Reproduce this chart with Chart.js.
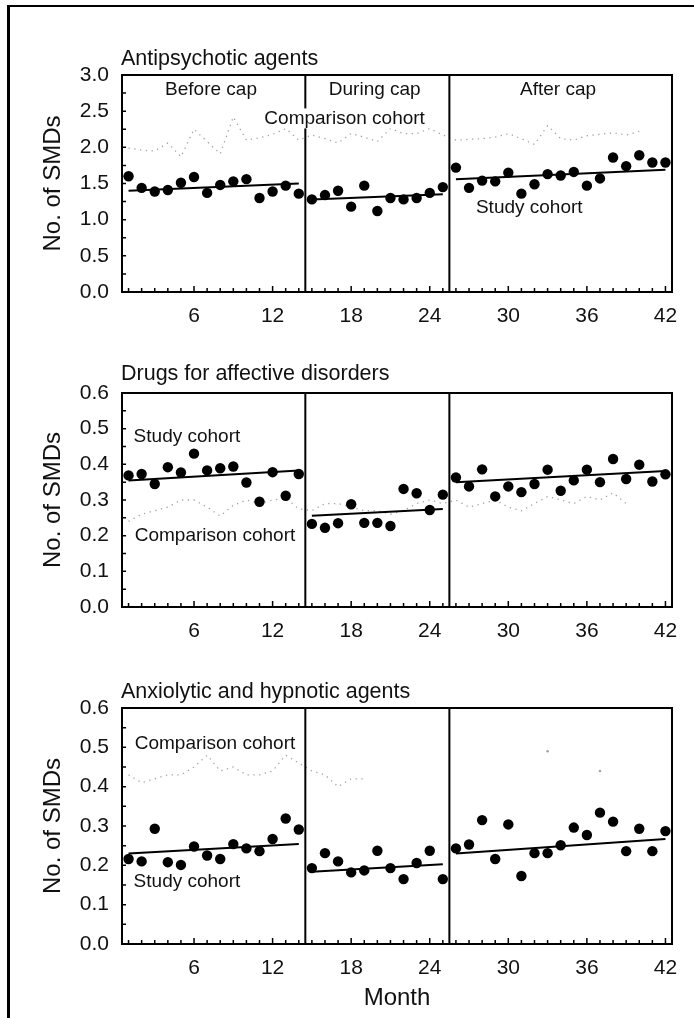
<!DOCTYPE html>
<html>
<head>
<meta charset="utf-8">
<script src="https://cdn.jsdelivr.net/npm/chart.js@4.4.1/dist/chart.umd.min.js"></script>
<style>
  body { margin: 0; background: #fff; }
  #page { position: relative; width: 694px; height: 1018px; overflow: hidden; background: #fff; }
  #frame { position: absolute; left: 7px; top: 5px; width: 700px; height: 1030px;
           border-left: 3px solid #000; border-top: 2px solid #000; }
  canvas { position: absolute; left: 0; }
</style>
</head>
<body>
<div id="page">
  <div id="frame"></div>
  <canvas id="c1" style="top:0px"></canvas>
  <canvas id="c2" style="top:330px"></canvas>
  <canvas id="c3" style="top:650px"></canvas>
</div>
<script>
// months and periods
const months = [1, 2, 3, 4, 5, 6, 7, 8, 9, 10, 11, 12, 13, 14,
                15, 16, 17, 18, 19, 20, 21, 22, 23, 24, 25,
                26, 27, 28, 29, 30, 31, 32, 33, 34, 35, 36, 37, 38, 39, 40, 41, 42];
const xTicks = [6, 12, 18, 24, 30, 36, 42];
const periodNames = ['Before cap', 'During cap', 'After cap'];
const periodFirst = [1, 15, 26];
const periodLast = [14, 25, 42];
const periodBreaks = [14.5, 25.5];

// Antipsychotic agents
const antiTicks = [0, 0.5, 1, 1.5, 2, 2.5, 3];
const antiStudy = [1.60, 1.44, 1.39, 1.41, 1.51, 1.59, 1.37, 1.48, 1.53, 1.56, 1.30, 1.39, 1.47, 1.36,
                   1.28, 1.34, 1.40, 1.18, 1.47, 1.12, 1.30, 1.28, 1.30, 1.37, 1.45,
                   1.72, 1.44, 1.54, 1.53, 1.65, 1.36, 1.49, 1.63, 1.61, 1.66, 1.47, 1.57, 1.86, 1.74, 1.89, 1.79, 1.79];
const antiComparison = [1.99, 1.96, 1.95, 2.06, 1.87, 2.25, 2.08, 1.91, 2.42, 2.10, 2.13, 2.18, 2.26, 2.10,
                        2.17, 2.12, 2.06, 2.19, 2.14, 2.08, 2.26, 2.19, 2.19, 2.26, 2.17,
                        2.10, 2.11, 2.12, 2.14, 2.19, 2.12, 2.04, 2.30, 2.12, 2.10, 2.16, 2.18, 2.20, 2.17, 2.22, null, null];
const antiTrendStart = [1.40, 1.28, 1.56];
const antiTrendEnd = [1.50, 1.35, 1.69];

// Drugs for affective disorders
const affTicks = [0, 0.1, 0.2, 0.3, 0.4, 0.5, 0.6];
const affStudy = [0.369, 0.373, 0.345, 0.392, 0.377, 0.430, 0.383, 0.389, 0.394, 0.349, 0.295, 0.378, 0.312, 0.373,
                  0.233, 0.222, 0.235, 0.288, 0.236, 0.236, 0.227, 0.331, 0.319, 0.272, 0.315,
                  0.363, 0.338, 0.386, 0.310, 0.338, 0.322, 0.345, 0.385, 0.326, 0.355, 0.385, 0.350, 0.415, 0.359, 0.399, 0.352, 0.372];
const affComparison = [0.24, 0.26, 0.27, 0.28, 0.30, 0.30, 0.28, 0.255, 0.285, 0.30, 0.29, 0.30, 0.305, 0.275,
                       0.27, 0.29, 0.29, 0.28, 0.27, 0.27, 0.26, 0.27, 0.29, 0.30, 0.29,
                       0.30, 0.28, 0.29, 0.30, 0.28, 0.27, 0.29, 0.31, 0.30, 0.29, 0.31, 0.30, 0.32, 0.29, null, null, null];
const affTrendStart = [0.355, 0.256, 0.350];
const affTrendEnd = [0.383, 0.275, 0.381];

// Anxiolytic and hypnotic agents
const anxTicks = [0, 0.1, 0.2, 0.3, 0.4, 0.5, 0.6];
const anxStudy = [0.216, 0.210, 0.293, 0.208, 0.201, 0.248, 0.225, 0.216, 0.254, 0.243, 0.236, 0.267, 0.319, 0.291,
                  0.193, 0.231, 0.210, 0.182, 0.187, 0.237, 0.193, 0.165, 0.206, 0.237, 0.165,
                  0.243, 0.253, 0.315, 0.216, 0.304, 0.173, 0.231, 0.231, 0.251, 0.296, 0.277, 0.334, 0.311, 0.236, 0.293, 0.236, 0.287];
const anxComparison = [0.43, 0.41, 0.42, 0.43, 0.43, 0.45, 0.48, 0.44, 0.45, 0.43, 0.43, 0.44, 0.48, 0.46,
                       0.44, 0.43, 0.40, 0.42, 0.42, null, null, null, null, null, null,
                       null, null, null, null, null, null, null, 0.49, null, null, null, 0.44, null, null, null, null, null];
const anxTrendStart = [0.230, 0.184, 0.230];
const anxTrendEnd = [0.254, 0.203, 0.267];

const FONT = '"Liberation Sans", Arial, Helvetica, sans-serif';
const INK = '#111';
const GREY = '#a3a3a3';

// draws frame, dividers, inward ticks, titles and in-plot labels
const decor = {
  id: 'decor',
  afterDatasetsDraw(chart, args, opts) {
    const {ctx, chartArea: a, scales: {x, y}} = chart;
    ctx.save();
    ctx.strokeStyle = '#000';
    ctx.lineWidth = 1.5;
    ctx.beginPath();
    months.forEach(m => {
      const px = x.getPixelForValue(m);
      const len = m % 6 === 0 ? 6 : 4;
      ctx.moveTo(px, a.bottom);
      ctx.lineTo(px, a.bottom - len);
    });
    for (let v = 0; v <= y.max + 1e-9; v += opts.minorStep) {
      const py = y.getPixelForValue(v);
      ctx.moveTo(a.left, py);
      ctx.lineTo(a.left + 4, py);
    }
    ctx.stroke();

    ctx.lineWidth = 2;
    ctx.strokeRect(a.left, a.top, a.right - a.left, a.bottom - a.top);
    ctx.beginPath();
    periodBreaks.forEach(b => {
      const px = x.getPixelForValue(b);
      ctx.moveTo(px, a.top);
      ctx.lineTo(px, a.bottom);
    });
    ctx.stroke();

    ctx.fillStyle = INK;
    ctx.font = '21.5px ' + FONT;
    ctx.textAlign = 'left';
    ctx.textBaseline = 'alphabetic';
    ctx.fillText(opts.title, a.left - 1, a.top - opts.titleGap);

    ctx.font = '19px ' + FONT;
    ctx.textAlign = 'center';
    ctx.textBaseline = 'middle';
    opts.labels.forEach(l => {
      const px = x.getPixelForValue(l.x);
      const py = y.getPixelForValue(l.y);
      if (l.bg) {
        const w = ctx.measureText(l.text).width;
        ctx.fillStyle = '#fff';
        ctx.fillRect(px - w / 2 - 2, py - 10, w + 4, 20);
        ctx.fillStyle = INK;
      }
      ctx.fillText(l.text, px, py);
    });
    ctx.restore();
  }
};

function studySet(vals) {
  return {
    data: months.map((m, i) => ({x: m, y: vals[i]})),
    showLine: false,
    pointRadius: 5.2,
    pointBackgroundColor: '#000',
    pointBorderWidth: 0
  };
}

function comparisonSet(vals) {
  return {
    data: months.map((m, i) => ({x: m, y: vals[i]})),
    borderColor: GREY,
    borderWidth: 1.3,
    borderDash: [1.3, 4.5],
    spanGaps: false,
    pointBackgroundColor: GREY,
    pointBorderWidth: 0,
    pointRadius: c => {
      const i = c.dataIndex;
      const alone = vals[i] != null && vals[i - 1] == null && vals[i + 1] == null;
      return alone ? 1.3 : 0;
    }
  };
}

function trendSets(starts, ends) {
  return starts.map((s, i) => ({
    data: [{x: periodFirst[i], y: s}, {x: periodLast[i], y: ends[i]}],
    borderColor: '#000',
    borderWidth: 2,
    pointRadius: 0
  }));
}

function makePanel(id, h, cfg) {
  const cv = document.getElementById(id);
  cv.width = 694; cv.height = h;
  cv.style.width = '694px'; cv.style.height = h + 'px';
  return new Chart(cv, {
    type: 'line',
    data: {
      datasets: [studySet(cfg.study)].concat(trendSets(cfg.trendStart, cfg.trendEnd), [comparisonSet(cfg.comparison)])
    },
    options: {
      responsive: false,
      animation: false,
      events: [],
      layout: {padding: {top: cfg.top, right: 22, bottom: 0, left: 0}},
      plugins: {
        legend: {display: false},
        tooltip: {enabled: false},
        decor: {title: cfg.title, titleGap: cfg.titleGap, labels: cfg.labels, minorStep: cfg.minorStep}
      },
      scales: {
        x: {
          type: 'linear', min: 0.5, max: 42.5,
          grid: {display: false}, border: {display: false},
          ticks: {font: {family: FONT, size: 21}, color: INK, padding: 4, maxRotation: 0, autoSkip: false},
          afterBuildTicks: s => { s.ticks = xTicks.map(v => ({value: v})); },
          afterFit: s => { s.height = cfg.xHeight; },
          title: {display: !!cfg.xTitle, text: cfg.xTitle || '', color: INK,
                  font: {family: FONT, size: 24}, padding: {top: 0, bottom: 5.6}}
        },
        y: {
          min: 0, max: cfg.yTicks[cfg.yTicks.length - 1],
          grid: {display: false}, border: {display: false},
          ticks: {font: {family: FONT, size: 21}, color: INK, padding: 5,
                  callback: v => Number(v).toFixed(1)},
          afterBuildTicks: s => { s.ticks = cfg.yTicks.map(v => ({value: v})); },
          afterFit: s => { s.width = 122; },
          title: {display: true, text: 'No. of SMDs', color: INK,
                  font: {family: FONT, size: 24}, padding: {top: 38.6, bottom: 0}}
        }
      }
    },
    plugins: [decor]
  });
}

makePanel('c1', 330, {
  title: 'Antipsychotic agents', titleGap: 10, top: 75, xHeight: 38,
  yTicks: antiTicks, minorStep: 0.25,
  study: antiStudy, comparison: antiComparison, trendStart: antiTrendStart, trendEnd: antiTrendEnd,
  labels: [
    {text: periodNames[0], x: 7.3, y: 2.79},
    {text: periodNames[1], x: 19.8, y: 2.79},
    {text: periodNames[2], x: 33.8, y: 2.79},
    {text: 'Comparison cohort', x: 17.5, y: 2.40, bg: true},
    {text: 'Study cohort', x: 31.6, y: 1.16}
  ]
});

makePanel('c2', 320, {
  title: 'Drugs for affective disorders', titleGap: 13, top: 63, xHeight: 43,
  yTicks: affTicks, minorStep: 0.05,
  study: affStudy, comparison: affComparison, trendStart: affTrendStart, trendEnd: affTrendEnd,
  labels: [
    {text: 'Study cohort', x: 5.46, y: 0.477},
    {text: 'Comparison cohort', x: 7.6, y: 0.199}
  ]
});

makePanel('c3', 368, {
  title: 'Anxiolytic and hypnotic agents', titleGap: 10, top: 58, xHeight: 74, xTitle: 'Month',
  yTicks: anxTicks, minorStep: 0.05,
  study: anxStudy, comparison: anxComparison, trendStart: anxTrendStart, trendEnd: anxTrendEnd,
  labels: [
    {text: 'Comparison cohort', x: 7.6, y: 0.509},
    {text: 'Study cohort', x: 5.46, y: 0.158}
  ]
});
</script>
</body>
</html>
